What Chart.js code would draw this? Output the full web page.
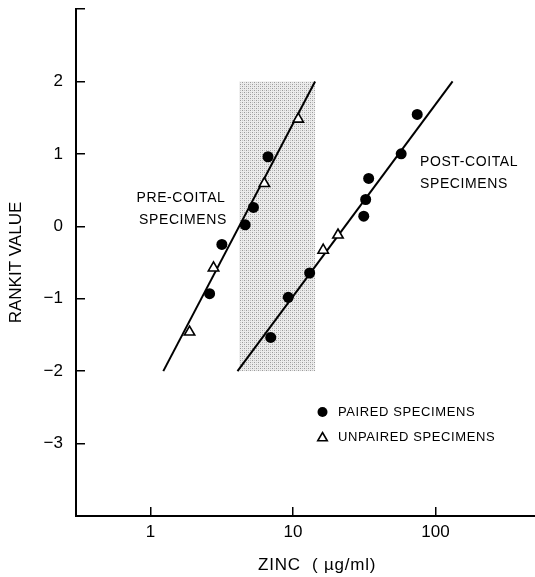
<!DOCTYPE html>
<html>
<head>
<meta charset="utf-8">
<title>Rankit plot of zinc</title>
<script src="https://cdn.jsdelivr.net/npm/chart.js@4.4.1/dist/chart.umd.min.js"></script>
<style>
    html, body { margin: 0; padding: 0; background: #fff; }
    canvas { display: block; }
</style>
</head>
<body>
<canvas id="rankit-chart" width="535" height="577"></canvas>
<script>
    // Pre-coital specimens
    var prePairedX = [2.60, 3.17, 4.62, 5.28, 6.68];
    var prePairedY = [-0.93, -0.25, 0.02, 0.26, 0.96];
    var preUnpairedX = [1.88, 2.77, 6.30, 10.9];
    var preUnpairedY = [-1.46, -0.575, 0.59, 1.48];

    // Post-coital specimens
    var postPairedX = [6.98, 9.27, 13.1, 31.4, 32.4, 34.0, 57.5, 74.5];
    var postPairedY = [-1.535, -0.98, -0.645, 0.14, 0.37, 0.66, 1.00, 1.545];
    var postUnpairedX = [16.3, 20.7];
    var postUnpairedY = [-0.33, -0.12];

    // Fitted lines
    var preFitX = [1.23, 14.3];
    var preFitY = [-2, 2];
    var postFitX = [4.08, 132];
    var postFitY = [-2, 2];

    // Shaded band
    var shadeX = [4.2, 14.3];
    var shadeY = [-2, 2];

    // Axes
    var xTicks = [1, 10, 100];
    var xTickLabels = ["1", "10", "100"];
    var yTicks = [-3, -2, -1, 0, 1, 2, 3];
    var yTickLabels = ["\u22123", "\u22122", "\u22121", "0", "1", "2", ""];

    function toPoints(xs, ys) {
        return xs.map(function (x, i) { return {x: x, y: ys[i]}; });
    }

    var FONT = "'Liberation Sans', Arial, Helvetica, sans-serif";
    Chart.defaults.font.family = FONT;
    Chart.defaults.color = "#000";

    // stipple pattern for the band
    function stipple(ctx) {
        var c = document.createElement("canvas");
        c.width = 4; c.height = 4;
        var p = c.getContext("2d");
        p.fillStyle = "#ececec";
        p.fillRect(0, 0, 4, 4);
        p.fillStyle = "#9a9a9a";
        p.fillRect(0, 0, 1, 1);
        p.fillRect(2, 2, 1, 1);
        p.fillStyle = "#c4c4c4";
        p.fillRect(2, 0, 1, 1);
        p.fillRect(0, 2, 1, 1);
        return ctx.createPattern(c, "repeat");
    }

    var bandPlugin = {
        id: "band",
        beforeDatasetsDraw: function (chart) {
            var ctx = chart.ctx, sx = chart.scales.x, sy = chart.scales.y;
            var x0 = sx.getPixelForValue(shadeX[0]), x1 = sx.getPixelForValue(shadeX[1]);
            var y0 = sy.getPixelForValue(shadeY[1]), y1 = sy.getPixelForValue(shadeY[0]);
            ctx.save();
            ctx.fillStyle = stipple(ctx);
            ctx.fillRect(x0, y0, x1 - x0, y1 - y0);
            ctx.restore();
        }
    };

    function circle(ctx, x, y, r) {
        ctx.beginPath();
        ctx.arc(x, y, r, 0, Math.PI * 2);
        ctx.fillStyle = "#000";
        ctx.fill();
    }

    function triangle(ctx, x, y, r) {
        ctx.beginPath();
        ctx.moveTo(x, y - r);
        ctx.lineTo(x + r * 0.866, y + r * 0.5);
        ctx.lineTo(x - r * 0.866, y + r * 0.5);
        ctx.closePath();
        ctx.fillStyle = "#fff";
        ctx.fill();
        ctx.lineWidth = 1.6;
        ctx.strokeStyle = "#000";
        ctx.stroke();
    }

    var textPlugin = {
        id: "texts",
        afterDraw: function (chart) {
            var ctx = chart.ctx;
            ctx.save();
            ctx.fillStyle = "#000";
            ctx.textBaseline = "middle";
            ctx.letterSpacing = "0.6px";

            ctx.font = "14px " + FONT;
            ctx.textAlign = "center";
            ctx.fillText("PRE-COITAL", 181, 198);
            ctx.fillText("SPECIMENS", 183, 220);
            ctx.textAlign = "left";
            ctx.fillText("POST-COITAL", 420, 162);
            ctx.fillText("SPECIMENS", 420, 184);

            // legend
            ctx.font = "13px " + FONT;
            circle(ctx, 322.5, 412, 5);
            ctx.fillStyle = "#000";
            ctx.fillText("PAIRED SPECIMENS", 338, 412);
            triangle(ctx, 322.5, 438, 5.5);
            ctx.fillStyle = "#000";
            ctx.fillText("UNPAIRED SPECIMENS", 338, 437);

            // x axis title
            ctx.letterSpacing = "0.8px";
            ctx.font = "17px " + FONT;
            ctx.textAlign = "left";
            ctx.fillText("ZINC  ( \u00b5g/ml)", 258, 565);
            ctx.restore();
        }
    };

    var ctx1 = document.getElementById("rankit-chart").getContext("2d");
    var myChart1 = new Chart(ctx1, {
        type: "scatter",
        data: {
            datasets: [{
                    label: "Pre-coital paired",
                    data: toPoints(prePairedX, prePairedY),
                    pointStyle: "circle",
                    pointRadius: 5.5,
                    backgroundColor: "#000",
                    borderColor: "#000",
                    borderWidth: 0
                },
                {
                    label: "Pre-coital unpaired",
                    data: toPoints(preUnpairedX, preUnpairedY),
                    pointStyle: "triangle",
                    pointRadius: 6,
                    backgroundColor: "#fff",
                    borderColor: "#000",
                    borderWidth: 1.6
                },
                {
                    label: "Post-coital paired",
                    data: toPoints(postPairedX, postPairedY),
                    pointStyle: "circle",
                    pointRadius: 5.5,
                    backgroundColor: "#000",
                    borderColor: "#000",
                    borderWidth: 0
                },
                {
                    label: "Post-coital unpaired",
                    data: toPoints(postUnpairedX, postUnpairedY),
                    pointStyle: "triangle",
                    pointRadius: 6,
                    backgroundColor: "#fff",
                    borderColor: "#000",
                    borderWidth: 1.6
                },
                {
                    label: "Pre-coital fit",
                    data: toPoints(preFitX, preFitY),
                    showLine: true,
                    pointRadius: 0,
                    borderColor: "#000",
                    borderWidth: 2
                },
                {
                    label: "Post-coital fit",
                    data: toPoints(postFitX, postFitY),
                    showLine: true,
                    pointRadius: 0,
                    borderColor: "#000",
                    borderWidth: 2
                }
            ]
        },
        options: {
            responsive: false,
            animation: false,
            layout: {
                autoPadding: false,
                padding: { top: 9, right: 0, left: 0, bottom: 0 }
            },
            plugins: {
                legend: { display: false },
                tooltip: { enabled: false }
            },
            scales: {
                x: {
                    type: "logarithmic",
                    min: 0.3,
                    max: 500,
                    afterBuildTicks: function (scale) {
                        scale.ticks = xTicks.map(function (v) { return {value: v}; });
                    },
                    afterFit: function (scale) {
                        scale.height = 61;
                        scale.paddingLeft = 0;
                        scale.paddingRight = 0;
                    },
                    ticks: {
                        autoSkip: false,
                        maxRotation: 0,
                        padding: 15,
                        font: { size: 17 },
                        callback: function (value, index) { return xTickLabels[index]; }
                    },
                    grid: {
                        drawOnChartArea: false,
                        drawTicks: true,
                        tickLength: -9,
                        color: "#000",
                        lineWidth: 1.5
                    },
                    border: { display: true, color: "#000", width: 2 }
                },
                y: {
                    min: -4,
                    max: 3,
                    afterBuildTicks: function (scale) {
                        scale.ticks = yTicks.map(function (v) { return {value: v}; });
                    },
                    afterFit: function (scale) {
                        scale.width = 76;
                        scale.paddingTop = 0;
                        scale.paddingBottom = 0;
                    },
                    title: {
                        display: true,
                        text: "RANKIT VALUE",
                        font: { size: 17 },
                        padding: { top: 6, bottom: 0 }
                    },
                    ticks: {
                        padding: 22,
                        font: { size: 17 },
                        callback: function (value, index) { return yTickLabels[index]; }
                    },
                    grid: {
                        drawOnChartArea: false,
                        drawTicks: true,
                        tickLength: -9,
                        color: "#000",
                        lineWidth: 1.5
                    },
                    border: { display: true, color: "#000", width: 2 }
                }
            }
        },
        plugins: [bandPlugin, textPlugin]
    });
</script>
</body>
</html>
